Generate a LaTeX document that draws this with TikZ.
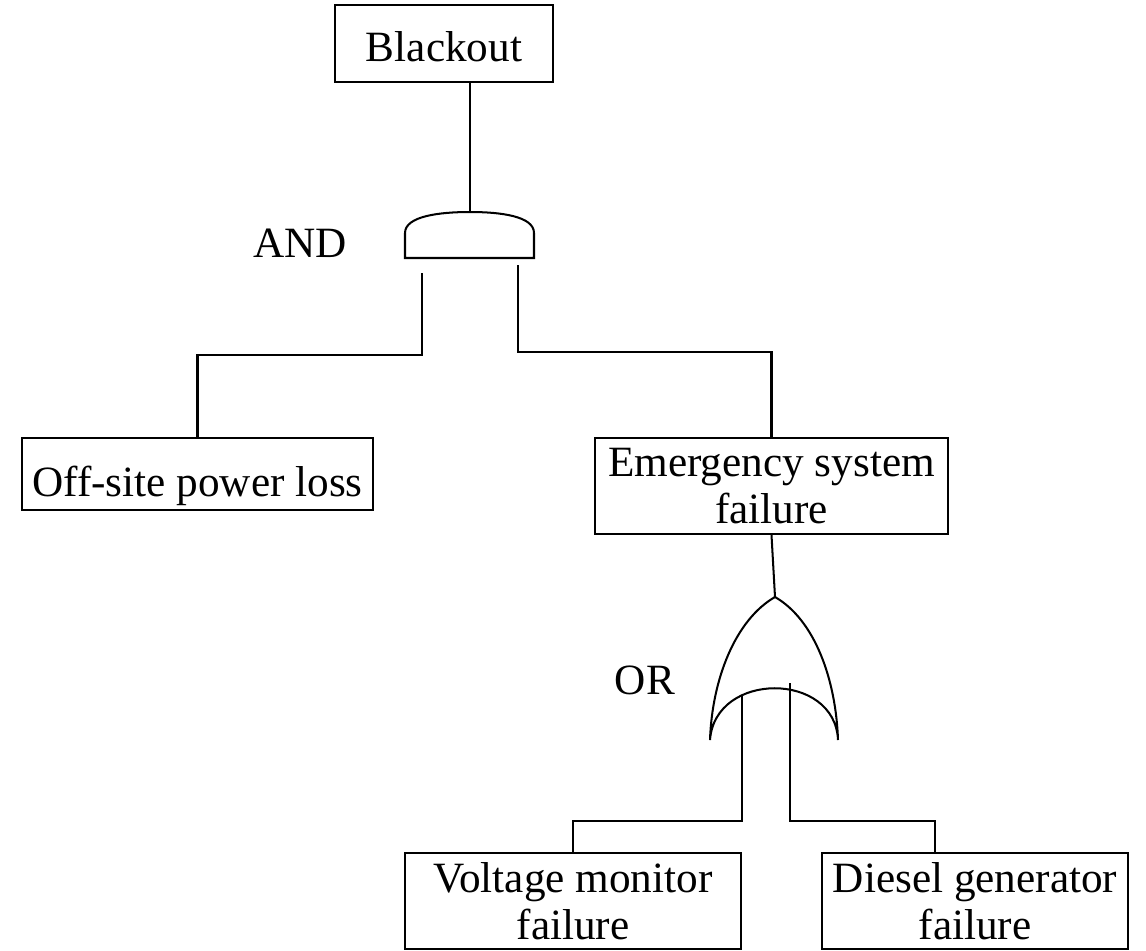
\documentclass[tikz,border=0pt]{standalone}
\usepackage{fontspec}
\setmainfont{Liberation Serif}
\begin{document}
\begin{tikzpicture}[x=0.02cm,y=-0.02cm,line width=1.15pt,
	event/.style={draw,align=center,inner sep=0pt,font=\fontsize{24.6}{27}\selectfont},
	gatelbl/.style={font=\fontsize{24.6}{27}\selectfont}]
	\useasboundingbox (0,0) rectangle (1146,950);
	
	% events
	\node[event,minimum width=4.36cm,minimum height=1.54cm,text height=0.72cm] (blackout) at (444,43.5) {Blackout};
	\node[event,minimum width=7.02cm,minimum height=1.44cm,text height=1.1cm] (offsite) at (197.5,474) {Off-site power loss};
	\node[event,minimum width=7.06cm,minimum height=1.92cm] (emerg) at (771.5,486) {Emergency system\\failure};
	\node[event,minimum width=6.72cm,minimum height=1.92cm] (voltmon) at (573,901) {Voltage monitor\\failure};
	\node[event,minimum width=6.12cm,minimum height=1.92cm] (diesel) at (975,901) {Diesel generator\\failure};
	
	% AND gate
	\coordinate (andtop) at (470,212); \coordinate (andin1) at (422,273); \coordinate (andin2) at (518,265);
	\draw (405,258) -- (405,233) ..controls (405,216) and (440,212).. (andtop) ..controls (500,212) and (534,216).. (534,233) -- (534,258) -- cycle;
	\node[gatelbl] (andlbl) at (300,243) {AND};
	
	% OR gate
	\coordinate (orapex) at (775,597); \coordinate (orin1) at (742,695); \coordinate (orin2) at (790,683);
	\draw (orapex) ..controls (735,620) and (712,680).. (710,740) ..controls (715,671) and (835,671).. (838,740) ..controls (836,680) and (815,620).. (orapex);
	\node[gatelbl] (orlbl) at (645,680) {OR};
	
	% connections
	\draw (andtop) -- (andtop |- blackout.south);
	\coordinate (andmid1) at (422,355); \coordinate (andmid2) at (518,352);
	\draw (andin1) -- (andmid1) -| (offsite.north); \draw (andin2) -- (andmid2) -| (emerg.north);
	\draw (emerg.south) -- (orapex);
	\coordinate (ormid1) at (742,821); \coordinate (ormid2) at (790,821); \coordinate (ormid3) at (935,821);
	\draw (orin1) -- (ormid1) -| (voltmon.north); \draw (orin2) -- (ormid2) -- (ormid3) -- (ormid3 |- diesel.north);
\end{tikzpicture}
\end{document}
